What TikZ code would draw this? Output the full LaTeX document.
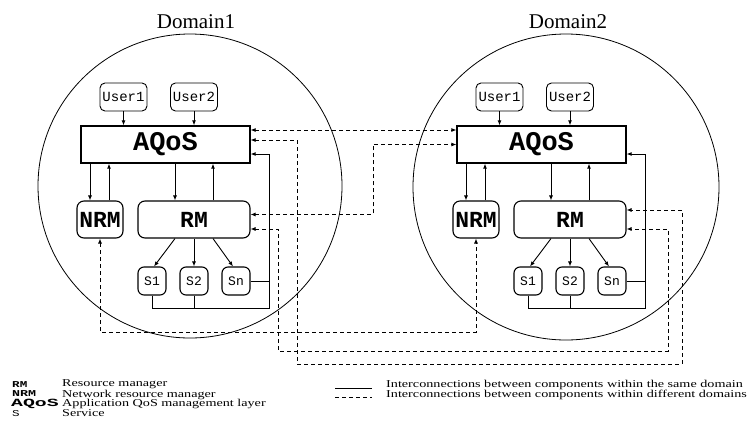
\documentclass[tikz,border=0pt]{standalone}
\usepackage{graphicx}
\usepackage{fontspec}
\setmainfont{Liberation Serif}
\setmonofont{Liberation Mono}
\usetikzlibrary{arrows.meta,positioning}
\NewDocumentCommand{\fsz}{m}{\fontsize{#1}{#1}\selectfont}
\NewDocumentCommand{\keytxt}{mm}{\scalebox{#1}[1]{#2}}

\begin{document}
\begin{tikzpicture}[x=1pt, y=-1pt]
    \tikzstyle{ring}=[draw, line width=0.8pt]
    \tikzstyle{userbox}=[draw, rounded corners=5pt, line width=0.9pt, minimum width=47pt, minimum height=28pt, inner sep=0pt, font={\ttfamily\fsz{14}}]
    \tikzstyle{aqosbox}=[draw, line width=1.3pt, minimum width=169pt, minimum height=37pt, inner sep=0pt, font={\ttfamily\bfseries\fsz{27}}]
    \tikzstyle{mgrbox}=[draw, rounded corners=7pt, line width=1.1pt, minimum height=37pt, inner sep=0pt, font={\ttfamily\bfseries\fsz{23}}]
    \tikzstyle{srvbox}=[draw, rounded corners=6pt, line width=1.1pt, minimum width=28pt, minimum height=28pt, inner sep=0pt, font={\ttfamily\fsz{13}}]
    \tikzstyle{link}=[-{Latex[length=5pt,width=4pt]}, line width=0.9pt]
    \tikzstyle{wire}=[line width=0.9pt]
    \tikzstyle{remote}=[{Latex[length=5pt,width=4pt]}-{Latex[length=5pt,width=4pt]}, line width=0.8pt, dash pattern=on 4pt off 3pt]
    \tikzstyle{legend}=[anchor=west, inner sep=0pt]

    \useasboundingbox (0,0) rectangle (747,445);

    \begin{scope}[shift={(0,0)}]
        \node[font=\fsz{21}] (Dom1) at (196,22) {Domain1};
        \draw[ring] (190,186) circle (152pt);
        \node[userbox] (U11) at (123.5,97) {User1};
        \node[userbox] (U12) at (194,97) {User2};
        \node[aqosbox] (AQoS1) at (165.5,144.5) {AQoS};
        \node[mgrbox, minimum width=46pt] (NRM1) at (100,219.5) {NRM};
        \node[mgrbox, minimum width=112pt] (RM1) at (194,219.5) {RM};
        \node[srvbox] (S11) at (152,281) {S1};
        \node[srvbox] (S12) at (194,281) {S2};
        \node[srvbox] (S1n) at (236,281) {Sn};
        \coordinate (bus1) at (269,308);

        \draw[link] (U11) -- (U11 |- AQoS1.north);
        \draw[link] (U12) -- (U12 |- AQoS1.north);
        \draw[link] ([xshift=-10pt]NRM1.north |- AQoS1.south) -- ([xshift=-10pt]NRM1.north);
        \draw[link] ([xshift=9pt]NRM1.north) -- ([xshift=9pt]NRM1.north |- AQoS1.south);
        \draw[link] ([xshift=-19pt]RM1.north |- AQoS1.south) -- ([xshift=-19pt]RM1.north);
        \draw[link] ([xshift=19pt]RM1.north) -- ([xshift=19pt]RM1.north |- AQoS1.south);
        \draw[link] ([xshift=-19pt]RM1.south) -- ([xshift=2pt]S11.north);
        \draw[link] (RM1.south) -- (S12.north);
        \draw[link] ([xshift=19pt]RM1.south) -- ([xshift=-3pt]S1n.north);
        \draw[link] (S11.south) |- (bus1) |- ([yshift=-9.5pt]AQoS1.east);
        \draw[wire] (S12.south) -- (S12.south |- bus1);
        \draw[wire] (S1n.east) -- (S1n.east -| bus1);
    \end{scope}

    \begin{scope}[shift={(376,0)}]
        \node[font=\fsz{21}] (Dom2) at (192,22) {Domain2};
        \draw[ring] (190,187) circle (153pt);
        \node[userbox] (U21) at (123.5,97) {User1};
        \node[userbox] (U22) at (194,97) {User2};
        \node[aqosbox] (AQoS2) at (165.5,144.5) {AQoS};
        \node[mgrbox, minimum width=46pt] (NRM2) at (100,219.5) {NRM};
        \node[mgrbox, minimum width=112pt] (RM2) at (194,219.5) {RM};
        \node[srvbox] (S21) at (152,281) {S1};
        \node[srvbox] (S22) at (194,281) {S2};
        \node[srvbox] (S2n) at (236,281) {Sn};
        \coordinate (bus2) at (269,308);

        \draw[link] (U21) -- (U21 |- AQoS2.north);
        \draw[link] (U22) -- (U22 |- AQoS2.north);
        \draw[link] ([xshift=-10pt]NRM2.north |- AQoS2.south) -- ([xshift=-10pt]NRM2.north);
        \draw[link] ([xshift=9pt]NRM2.north) -- ([xshift=9pt]NRM2.north |- AQoS2.south);
        \draw[link] ([xshift=-19pt]RM2.north |- AQoS2.south) -- ([xshift=-19pt]RM2.north);
        \draw[link] ([xshift=19pt]RM2.north) -- ([xshift=19pt]RM2.north |- AQoS2.south);
        \draw[link] ([xshift=-19pt]RM2.south) -- ([xshift=2pt]S21.north);
        \draw[link] (RM2.south) -- (S22.north);
        \draw[link] ([xshift=19pt]RM2.south) -- ([xshift=-3pt]S2n.north);
        \draw[link] (S21.south) |- (bus2) |- ([yshift=-9.5pt]AQoS2.east);
        \draw[wire] (S22.south) -- (S22.south |- bus2);
        \draw[wire] (S2n.east) -- (S2n.east -| bus2);
    \end{scope}

    \draw[remote] ([yshift=14.5pt]AQoS1.east) -- ([yshift=14.5pt]AQoS2.west);
    \draw[remote] ([yshift=4.5pt]AQoS1.east) -| (297,364) -| (682,210) -- ([yshift=9.5pt]RM2.east);
    \draw[remote] ([yshift=5pt]RM1.east) -| (373,144.5) -- (AQoS2.west);
    \draw[remote] ([yshift=-9.5pt]RM1.east) -| (278,351) -| (668,229) -- ([yshift=-9.5pt]RM2.east);
    \draw[remote] (NRM1.south) |- (476,332) -- (NRM2.south);

    \node[legend, font={\ttfamily\bfseries\fsz{9}}] (kRM) at (12,384.5) {\keytxt{1.4}{RM}};
    \node[legend, font={\ttfamily\bfseries\fsz{9}}] (kNRM) at (12,394) {\keytxt{1.48}{NRM}};
    \node[legend, font={\ttfamily\bfseries\fsz{11}}] (kAQoS) at (11,404) {\keytxt{1.8}{AQoS}};
    \node[legend, font={\ttfamily\fsz{9}}] (kS) at (12,413.5) {\keytxt{1.4}{S}};
    \node[legend, font=\fsz{10.5}] (dRM) at (62,384.5) {\keytxt{1.35}{Resource manager}};
    \node[legend, font=\fsz{10.5}] (dNRM) at (62,394.5) {\keytxt{1.35}{Network resource manager}};
    \node[legend, font=\fsz{10.5}] (dAQoS) at (62,404) {\keytxt{1.35}{Application QoS management layer}};
    \node[legend, font=\fsz{10.5}] (dS) at (62,413.5) {\keytxt{1.35}{Service}};

    \coordinate (solA) at (335,388);
    \coordinate (solB) at (372,388);
    \coordinate (dasA) at (335,397);
    \coordinate (dasB) at (372,397);
    \draw[wire] (solA) -- (solB);
    \draw[line width=0.8pt, dash pattern=on 4pt off 3pt] (dasA) -- (dasB);
    \node[legend, font=\fsz{10.5}] (dSame) at (386,385) {\keytxt{1.35}{Interconnections between components within the same domain}};
    \node[legend, font=\fsz{10.5}] (dDiff) at (386,394.5) {\keytxt{1.35}{Interconnections between components within different domains}};
\end{tikzpicture}
\end{document}
